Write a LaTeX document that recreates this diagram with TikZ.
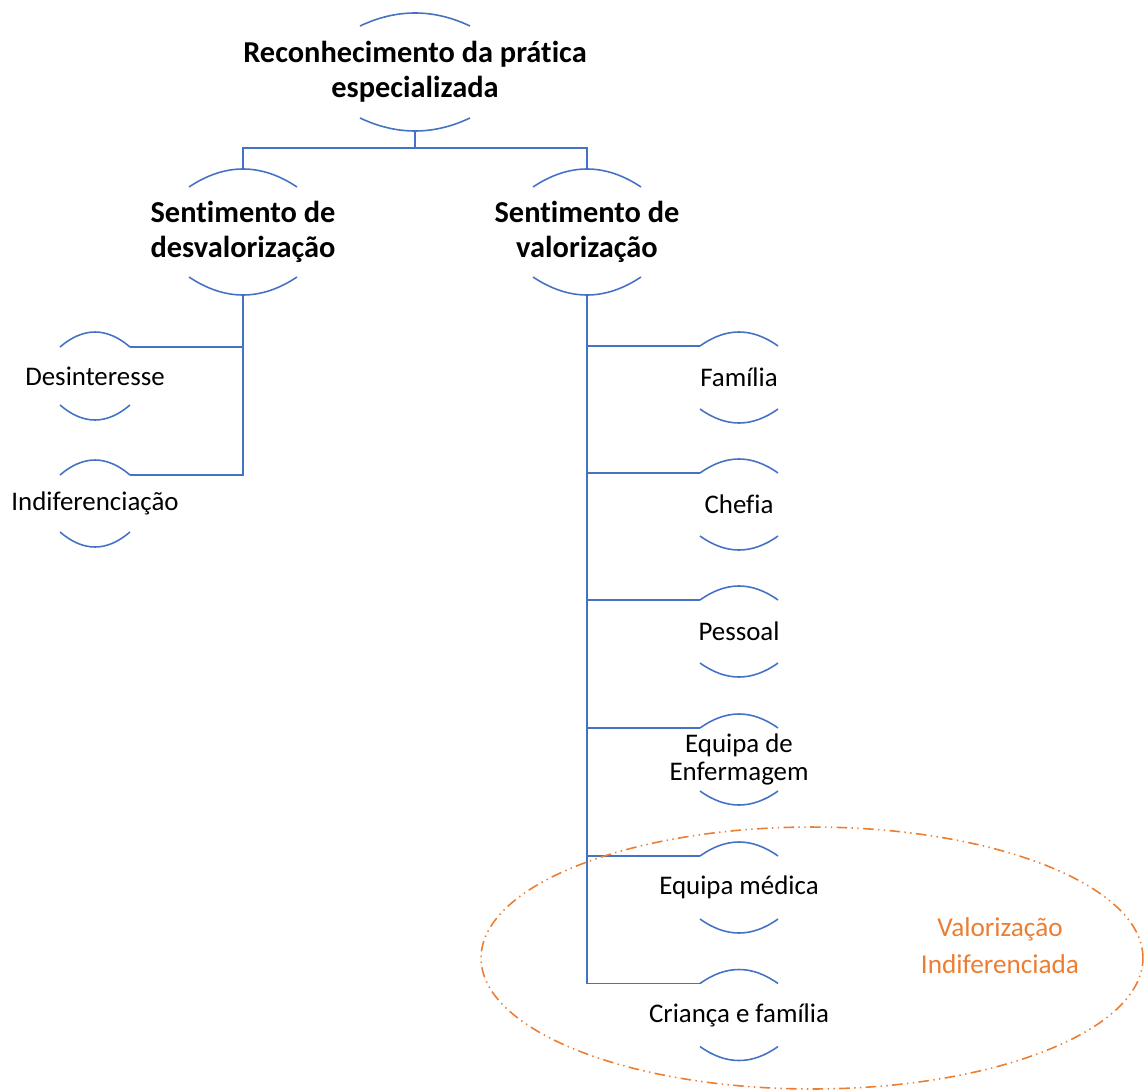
\documentclass[tikz,border=0pt]{standalone}
\usepackage{fontspec}
\setmainfont{Carlito}[Ligatures=NoCommon]
\usetikzlibrary{calc}

\definecolor{smblue}{HTML}{4472C4}
\definecolor{smorange}{HTML}{ED7D31}

% arcs above and below a label: node, half width, half height, sag
\newcommand{\capsarcs}[4]{%
  \draw[arcline] ($(#1)+(-#2,-#3)$) coordinate (#1-nw)
      .. controls ($(#1)+(-#2/3,-#3-#4*4/3)$) and ($(#1)+(#2/3,-#3-#4*4/3)$)
      .. ($(#1)+(#2,-#3)$) coordinate (#1-ne);
  \draw[arcline] ($(#1)+(-#2,#3)$)
      .. controls ($(#1)+(-#2/3,#3+#4*4/3)$) and ($(#1)+(#2/3,#3+#4*4/3)$)
      .. ($(#1)+(#2,#3)$);
  \coordinate (#1-top) at ($(#1)+(0,-#3-#4)$);
  \coordinate (#1-bot) at ($(#1)+(0,#3+#4)$);
}

\begin{document}
\begin{tikzpicture}[x=0.02cm, y=-0.02cm,
    headtext/.style={align=center, inner sep=0pt, font=\bfseries\fontsize{17.3}{19.8}\selectfont},
    leaftext/.style={align=center, inner sep=0pt, font=\fontsize{15.3}{16.2}\selectfont},
    arcline/.style={draw=smblue, line width=0.9pt},
    branch/.style={draw=smblue, line width=1.1pt},
    groupring/.style={draw=smorange, line width=0.9pt,
        dash pattern=on 6pt off 2.5pt on 0.8pt off 2.5pt on 0.8pt off 2.5pt},
    groupnote/.style={align=center, text=smorange, font=\fontsize{15.5}{21}\selectfont}]

\useasboundingbox (0,0) rectangle (1145,1091);

% Niveis superiores
\node[headtext] (rec) at (415,72) {Reconhecimento da prática\\especializada};
\node[headtext] (desv) at (243,232) {Sentimento de\\desvalorização};
\node[headtext] (valo) at (587,232) {Sentimento de\\valorização};

% Desvalorizacao
\node[leaftext] (desi) at (95,376) {Desinteresse};
\node[leaftext] (indif) at (95,503.5) {Indiferenciação};

% Valorizacao
\node[leaftext] (fam) at (739,377.5) {Família};
\node[leaftext] (chef) at (739,504.5) {Chefia};
\node[leaftext] (pess) at (739,631.5) {Pessoal};
\node[leaftext] (enf) at (739,759.5) {Equipa de\\Enfermagem};
\node[leaftext] (med) at (739,887.5) {Equipa médica};
\node[leaftext] (cri) at (739,1015) {Criança e família};

% Arcos
\capsarcs{rec}{55}{46}{13}
\capsarcs{desv}{54}{45}{18}
\capsarcs{valo}{54}{45}{18}
\capsarcs{desi}{35}{29}{15}
\capsarcs{indif}{35}{28.5}{15}
\foreach \n in {fam,chef,pess,enf,med,cri}{
    \capsarcs{\n}{39}{31.5}{14}
}

% Ligacoes
\draw[branch] (rec-bot) -- ++(0,17) coordinate (split) -| (desv-top);
\draw[branch] (split) -| (valo-top);
\draw[branch] (desv-bot) |- (desi-ne);
\draw[branch] (desv-bot) |- (indif-ne);
\foreach \n in {fam,chef,pess,enf,med,cri}
    \draw[branch] (valo-bot) |- (\n-nw);

% Grupo
\draw[groupring] (812,958) ellipse [x radius=6.62cm, y radius=2.62cm];
\node[groupnote] (note) at (1000,946) {Valorização\\Indiferenciada};

\end{tikzpicture}
\end{document}
